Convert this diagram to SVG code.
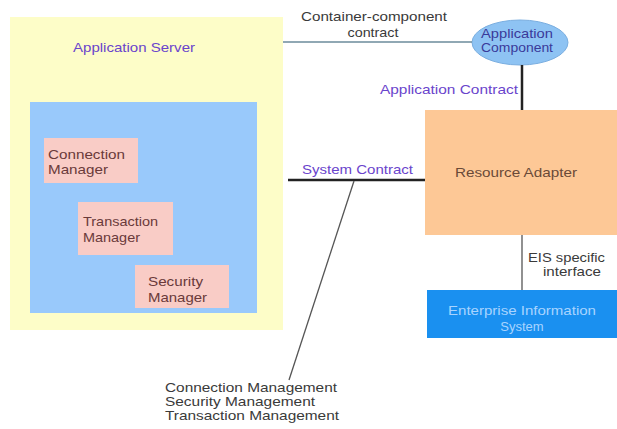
<svg xmlns="http://www.w3.org/2000/svg" width="617" height="429" viewBox="0 0 617 429">
<style>
text{font-family:"Liberation Sans",Arial,sans-serif;font-size:13px}
.pur{fill:#6a44cc}
.mgr{fill:#6a3a3a}
.dark{fill:#3a3a3a}
.thick{stroke:#222;stroke-width:2.5;fill:none}
.thin{stroke:#555;stroke-width:1.3;fill:none}
</style>
<rect width="617" height="429" fill="#ffffff"/>
<g id="app-server">
<rect x="10" y="17" width="273" height="313" fill="#fdfdc8"/>
<text x="73" y="52" class="pur" textLength="122" lengthAdjust="spacingAndGlyphs">Application Server</text>
</g>
<g id="container">
<rect x="30" y="102" width="227" height="211" fill="#99c9fb"/>
</g>
<g id="connection-manager">
<rect x="44" y="138" width="94" height="45" fill="#f9ccc6"/>
<text x="48" y="159" class="mgr" textLength="77" lengthAdjust="spacingAndGlyphs">Connection</text>
<text x="48" y="174" class="mgr" textLength="60" lengthAdjust="spacingAndGlyphs">Manager</text>
</g>
<g id="transaction-manager">
<rect x="78" y="202" width="95" height="53" fill="#f9ccc6"/>
<text x="83" y="226" class="mgr" textLength="75" lengthAdjust="spacingAndGlyphs">Transaction</text>
<text x="83" y="242" class="mgr" textLength="57" lengthAdjust="spacingAndGlyphs">Manager</text>
</g>
<g id="security-manager">
<rect x="135" y="265" width="94" height="43" fill="#f9ccc6"/>
<text x="148" y="286" class="mgr" textLength="55" lengthAdjust="spacingAndGlyphs">Security</text>
<text x="148" y="302" class="mgr" textLength="59" lengthAdjust="spacingAndGlyphs">Manager</text>
</g>
<g id="application-component">
<ellipse cx="520" cy="42.5" rx="48" ry="22.5" fill="#8ec3f3" stroke="#7aaee0" stroke-width="1"/>
<text x="517" y="38" text-anchor="middle" fill="#3a3a9a" textLength="72" lengthAdjust="spacingAndGlyphs">Application</text>
<text x="517" y="52" text-anchor="middle" fill="#3a3a9a" textLength="72" lengthAdjust="spacingAndGlyphs">Component</text>
</g>
<g id="resource-adapter">
<rect x="425" y="110" width="192" height="125" fill="#fdc896"/>
<text x="516" y="177" text-anchor="middle" fill="#6a4a38" textLength="122" lengthAdjust="spacingAndGlyphs">Resource Adapter</text>
</g>
<g id="eis">
<rect x="427" y="290" width="190" height="48" fill="#1a90f0"/>
<text x="522" y="315" text-anchor="middle" fill="#a8d4ff" textLength="148" lengthAdjust="spacingAndGlyphs">Enterprise Information</text>
<text x="522" y="331" text-anchor="middle" fill="#a8d4ff">System</text>
</g>
<g id="connectors">
<line x1="283" y1="42" x2="472" y2="42" stroke="#6b8b9b" stroke-width="1.3"/>
<line x1="522" y1="65" x2="522" y2="110" class="thick"/>
<line x1="288" y1="180" x2="425" y2="180" class="thick"/>
<line x1="522" y1="235" x2="522" y2="290" class="thin"/>
<line x1="354" y1="181" x2="289" y2="380" class="thin"/>
</g>
<g id="labels">
<text x="374" y="21" text-anchor="middle" class="dark" textLength="146" lengthAdjust="spacingAndGlyphs">Container-component</text>
<text x="373" y="37" text-anchor="middle" class="dark" textLength="51" lengthAdjust="spacingAndGlyphs">contract</text>
<text x="380" y="94" class="pur" textLength="138" lengthAdjust="spacingAndGlyphs">Application Contract</text>
<text x="302" y="174" class="pur" textLength="111" lengthAdjust="spacingAndGlyphs">System Contract</text>
<text x="528" y="262" class="dark" textLength="77" lengthAdjust="spacingAndGlyphs">EIS specific</text>
<text x="543" y="276" class="dark" textLength="58" lengthAdjust="spacingAndGlyphs">interface</text>
<text x="165" y="392" class="dark" textLength="172" lengthAdjust="spacingAndGlyphs">Connection Management</text>
<text x="165" y="406" class="dark" textLength="150" lengthAdjust="spacingAndGlyphs">Security Management</text>
<text x="165" y="420" class="dark" textLength="174" lengthAdjust="spacingAndGlyphs">Transaction Management</text>
</g>
</svg>
